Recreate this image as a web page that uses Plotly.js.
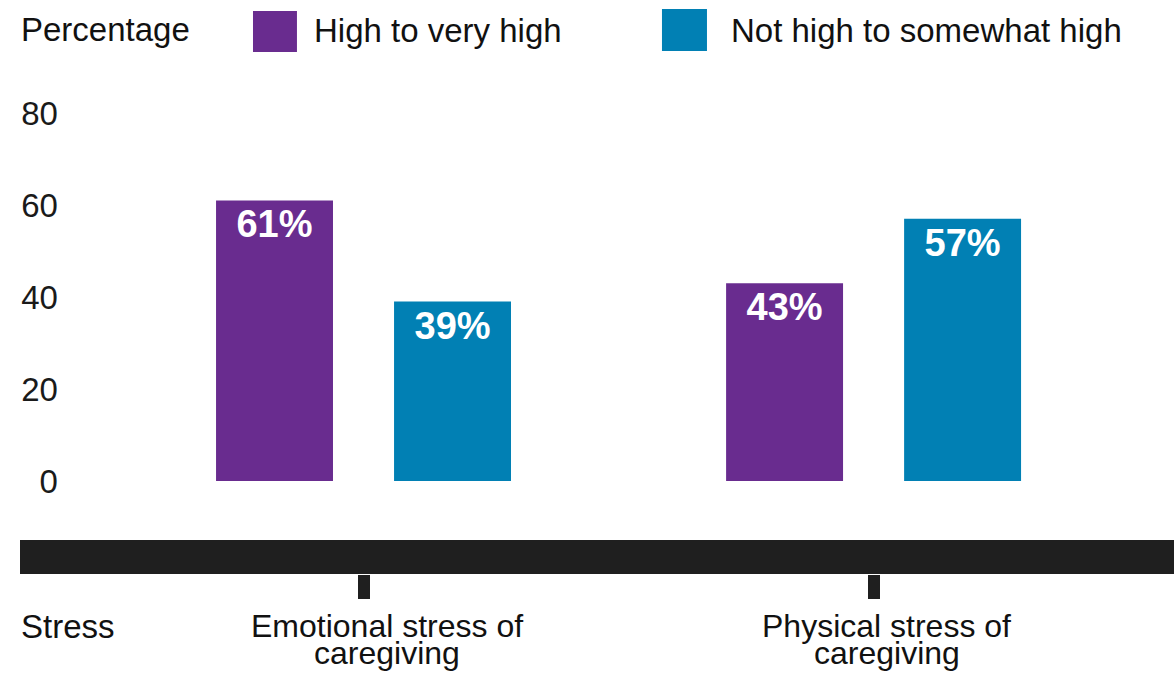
<!DOCTYPE html>
<html>
<head>
<meta charset="utf-8">
<script src="https://cdn.plot.ly/plotly-3.0.1.min.js"></script>
<style>html,body{margin:0;padding:0;background:#fff;}#chart{width:1174px;height:674px;}</style>
</head>
<body>
<div id="chart"></div>
<script>
// ---- data ----
const categories = ["Emotional stress of<br>caregiving", "Physical stress of<br>caregiving"];
const seriesNames = ["High to very high", "Not high to somewhat high"];
const highValues = [61, 43];
const notHighValues = [39, 57];
const seriesColors = ["#692c8f", "#0180b4"];
const yTickVals = [0, 20, 40, 60, 80];
const yTickText = ["0", "20", "40", "60", "80"];
const yAxisLabel = "Percentage";
const xAxisLabel = "Stress";

const FONT = "Liberation Sans, Arial, sans-serif";
const TXT = 33;
const CAT = 32;

function barTrace(name, values, color) {
  return {
    type: "bar",
    name: name,
    x: categories,
    y: values,
    marker: {color: color, line: {width: 0}},
    text: values.map(v => v + "%"),
    textposition: "inside",
    insidetextanchor: "end",
    textangle: 0,
    textfont: {family: FONT, size: 38, color: "#ffffff", weight: "bold"},
    hoverinfo: "skip",
    cliponaxis: false
  };
}

const traces = [
  barTrace(seriesNames[0], highValues, seriesColors[0]),
  barTrace(seriesNames[1], notHighValues, seriesColors[1])
];

// category labels: one annotation per line so the line spacing can be tight
const labelShift = [23, 13];
const lineY = [-0.1081, -0.1642];
const catAnnotations = [];
categories.forEach((c, i) => {
  c.split("<br>").forEach((line, j) => {
    catAnnotations.push({
      xref: "x", yref: "paper", x: c, y: lineY[j], xshift: labelShift[i],
      xanchor: "center", yanchor: "middle", text: line, showarrow: false,
      borderpad: 0,
      font: {family: FONT, size: CAT, color: "#111111"}
    });
  });
});

const layout = {
  width: 1174, height: 674,
  margin: {l: 20, r: 0, t: 93, b: 100},
  paper_bgcolor: "#ffffff", plot_bgcolor: "#ffffff",
  showlegend: false,
  barmode: "group",
  bargap: 0.302,
  bargroupgap: 0.343,
  font: {family: FONT, size: TXT, color: "#111111"},
  xaxis: {
    type: "category",
    range: [-0.6735, 1.589],
    showgrid: false, zeroline: false, showline: false,
    ticks: "outside", ticklen: 24, tickwidth: 12, tickcolor: "#1f1f1f",
    showticklabels: false,
    fixedrange: true
  },
  yaxis: {
    range: [-20.22, 84.35],
    anchor: "free", position: 0.0329, side: "left",
    showgrid: false, zeroline: false, showline: false,
    tickmode: "array", tickvals: yTickVals, ticktext: yTickText,
    ticks: "",
    tickfont: {family: FONT, size: TXT, color: "#1a1a1a"},
    fixedrange: true
  },
  shapes: [
    {type: "rect", xref: "paper", yref: "paper", x0: 0, x1: 1, y0: 0, y1: 0.0707,
     fillcolor: "#1f1f1f", line: {width: 0}, layer: "below"},
    {type: "rect", xref: "paper", yref: "paper", x0: 0.2019, x1: 0.2400, y0: 1.0852, y1: 1.1705,
     fillcolor: seriesColors[0], line: {width: 0}},
    {type: "rect", xref: "paper", yref: "paper", x0: 0.5563, x1: 0.5953, y0: 1.0873, y1: 1.1746,
     fillcolor: seriesColors[1], line: {width: 0}}
  ],
  annotations: [
    {xref: "paper", yref: "paper", x: -0.0009, y: 1.133, xanchor: "left", yanchor: "middle",
     text: yAxisLabel, showarrow: false, font: {family: FONT, size: TXT, color: "#111111"}},
    {xref: "paper", yref: "paper", x: 0.2530, y: 1.129, xanchor: "left", yanchor: "middle",
     text: seriesNames[0], showarrow: false, font: {family: FONT, size: TXT, color: "#111111"}},
    {xref: "paper", yref: "paper", x: 0.6145, y: 1.129, xanchor: "left", yanchor: "middle",
     text: seriesNames[1], showarrow: false, font: {family: FONT, size: TXT, color: "#111111"}},
    {xref: "paper", yref: "paper", x: -0.0009, y: -0.110, xanchor: "left", yanchor: "middle",
     text: xAxisLabel, showarrow: false, font: {family: FONT, size: TXT, color: "#111111"}}
  ].concat(catAnnotations)
};

Plotly.newPlot("chart", traces, layout, {displayModeBar: false, staticPlot: true});
</script>
</body>
</html>
